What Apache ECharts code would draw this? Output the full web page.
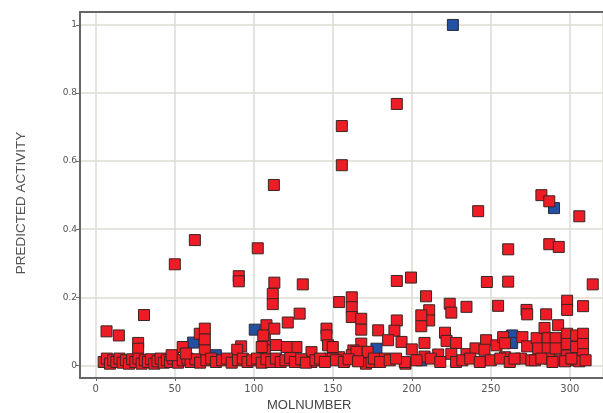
<!DOCTYPE html>
<html><head><meta charset="utf-8">
<script src="https://cdn.jsdelivr.net/npm/echarts@6/dist/echarts.min.js"></script>
<style>html,body{margin:0;padding:0;background:#fff}#c{width:603px;height:413px}</style>
</head><body><div id="c"></div>
<script>
// Active compounds (blue)
const activeX = [226, 290, 61.6, 100.6, 76, 177.6, 206, 263.5, 263.5];
const activeY = [1.0, 0.462, 0.067, 0.105, 0.03, 0.049, 0.015, 0.088, 0.066];

// Inactive compounds (red)
const inactiveX = [
  190.5,155.7,155.7,112.7,282,287,242,306,62.7,287,293,102.5,261,50,90.5,90.5,199.5,190.5,247.5,261,314.5,113,131,
  112,112,129,121.5,108,113,30.5,6.8,14.6,26.8,26.8,55,65.8,69,69,69,92,89.5,146,146,147,154,162,162,162,168,168,
  209,211,211,206,206,224,225,234.6,254.6,272.6,273,285,298.3,298.3,308.4,292.6,190.5,189,178.7,185,193.5,200,196,
  208,208,216.7,221,222,228,225,228,234.6,240.3,247,246,253.6,257.8,259,259,270,273,269,275.7,279,280,284,286,286,
  287,291,291,293.7,298.3,298.3,298.3,304,304,304,308.4,308.4,308.4,306,154,168,168,171,174.5,183,163,172,150,
  136.5,136.5,127,127,120.7,114,107,107,105,106,148,150,162,165,176,195.6,
  5,7,9,11,13,15,17,19,21,23,25,27,29,31,33,35,37,39,41,43,45,47,49,52,55,58,60,63,66,70,73,76,80,83,86,90,93,96,
  99,102,105,108,111,114,117,120,123,126,130,133,139,142,145,152,157,160,166,180,186,190,203,212,218,232,237,243,
  250,256,262,265,278,282,289,297,301,310,57,48
];
const inactiveY = [
  0.768,0.703,0.588,0.53,0.50,0.482,0.453,0.438,0.368,0.356,0.348,0.344,0.341,0.297,0.262,0.247,0.258,0.248,0.245,0.246,0.238,0.243,0.238,
  0.21,0.18,0.152,0.126,0.118,0.108,0.148,0.1,0.088,0.066,0.049,0.054,0.093,0.108,0.076,0.044,0.056,0.046,0.108,0.088,0.059,0.186,0.2,0.171,0.142,0.137,0.105,
  0.203,0.162,0.132,0.147,0.115,0.181,0.155,0.172,0.175,0.163,0.15,0.15,0.19,0.163,0.174,0.118,0.132,0.102,0.103,0.074,0.069,0.047,0.005,
  0.026,0.066,0.032,0.096,0.072,0.066,0.034,0.01,0.033,0.05,0.074,0.046,0.059,0.083,0.065,0.024,0.083,0.056,0.02,0.015,0.08,0.05,0.11,0.08,0.05,
  0.02,0.08,0.05,0.015,0.093,0.063,0.029,0.088,0.054,0.015,0.093,0.063,0.033,0.012,0.024,0.064,0.03,0.005,0.01,0.02,0.044,0.04,0.054,
  0.039,0.01,0.054,0.017,0.054,0.06,0.074,0.044,0.054,0.088,0.02,0.02,0.03,0.04,0.02,0.01,
  0.01,0.02,0.005,0.015,0.01,0.02,0.008,0.015,0.005,0.018,0.01,0.02,0.005,0.015,0.01,0.018,0.005,0.012,0.02,0.008,0.015,0.01,0.02,0.008,0.015,0.02,0.01,0.018,0.008,0.015,0.02,0.01,0.015,0.02,0.008,0.015,0.02,0.01,
  0.015,0.02,0.008,0.018,0.01,0.02,0.01,0.015,0.022,0.01,0.018,0.008,0.015,0.02,0.01,0.015,0.01,0.018,0.012,0.01,0.015,0.02,0.015,0.02,0.01,0.015,0.02,0.01,
  0.015,0.02,0.01,0.02,0.015,0.02,0.01,0.012,0.02,0.015,0.035,0.03
];

const xAxisName = 'MOLNUMBER';
const yAxisName = 'PREDICTED ACTIVITY';

const zip = (xs, ys) => xs.map((x, i) => [x, ys[i]]);

const chart = echarts.init(document.getElementById('c'), null, {renderer: 'canvas'});
const axisLabelStyle = {color: '#555', fontFamily: 'DejaVu Sans', fontSize: 9};
chart.setOption({
  animation: false,
  backgroundColor: '#fff',
  grid: {left: 80, top: 12, right: 0, bottom: 35, show: false},
  xAxis: [{
    type: 'value', min: -10, max: 321,
    axisLine: {show: true, onZero: false, lineStyle: {color: '#666', width: 2}},
    axisTick: {show: true, length: 3, lineStyle: {color: '#666'}},
    axisLabel: {...axisLabelStyle, fontSize: 10, margin: 6, showMinLabel: false, showMaxLabel: false,
      formatter: v => (v % 50 === 0 ? String(v) : '')},
    splitLine: {show: true, lineStyle: {color: '#dcdcd2', width: 1.5}}
  }, {
    type: 'value', position: 'top', min: -10, max: 321,
    axisLine: {show: true, onZero: false, lineStyle: {color: '#666', width: 2}},
    axisTick: {show: false}, axisLabel: {show: false}, splitLine: {show: false}
  }],
  yAxis: {
    type: 'value', min: -0.037, max: 1.038,
    axisLine: {show: true, onZero: false, lineStyle: {color: '#666', width: 2}},
    axisTick: {show: true, length: 4, lineStyle: {color: '#666'}},
    axisLabel: {...axisLabelStyle, margin: 3, showMinLabel: false, showMaxLabel: false,
      formatter: v => { const r = Math.round(v * 10) / 10; return Math.abs(v - r) < 1e-6 ? String(r) : ''; }},
    splitLine: {show: true, lineStyle: {color: '#dcdcd2', width: 1.5}}
  },
  graphic: [
    {type: 'text', left: 267, top: 399, style: {text: xAxisName, fill: '#444', font: '13px "Liberation Sans"'}},
    {type: 'text', x: 21, y: 203, rotation: Math.PI / 2,
      style: {text: yAxisName, fill: '#555', font: '13.5px "Liberation Sans"', align: 'center', verticalAlign: 'middle'}}
  ],
  series: [
    {type: 'scatter', name: 'active', data: zip(activeX, activeY), symbol: 'rect', symbolSize: 11, z: 2,
      itemStyle: {color: '#2350a0', borderColor: '#2a2a3a', borderWidth: 1, opacity: 1}},
    {type: 'scatter', name: 'inactive', data: zip(inactiveX, inactiveY), symbol: 'rect', symbolSize: 11, z: 3,
      itemStyle: {color: '#ee1c24', borderColor: '#3a2424', borderWidth: 1, opacity: 1}}
  ]
});
</script></body></html>
